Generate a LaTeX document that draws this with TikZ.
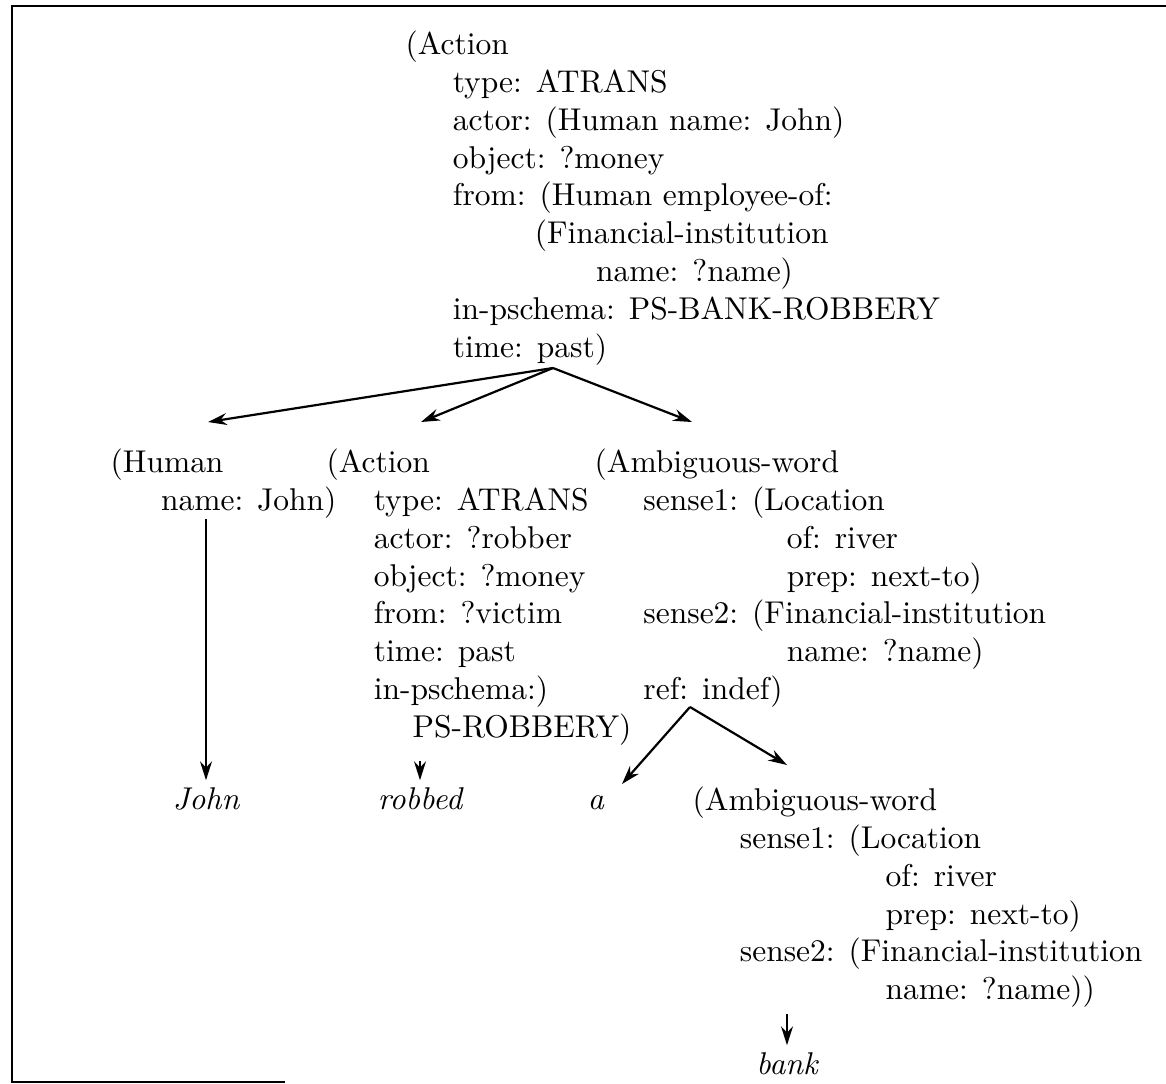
\documentclass[tikz,border=0pt]{standalone}
\usepackage{tikz}
\usetikzlibrary{arrows.meta}
\tikzset{
  block/.style={align=left,inner sep=0pt,anchor=north west},
  leaf/.style={inner sep=2pt,anchor=base,font=\itshape},
  arr/.style={-{Stealth[length=6pt,width=3.8pt,inset=2pt]},line width=0.7pt},
  framebox/.style={line width=0.8pt}
}
\begin{document}
\begin{tikzpicture}[x=0.3175pt,y=-0.3175pt]
    \useasboundingbox (0,0) rectangle (1166,1084);
    \draw[framebox] (1166,6) -- (12,6) -- (12,1082) -- (285,1082);
    % top frame
    \node[block] (top) at (405,30.4)
      {(Action\\
       \hspace*{15pt}type: ATRANS\\
       \hspace*{15pt}actor: (Human name: John)\\
       \hspace*{15pt}object: ?money\\
       \hspace*{15pt}from: (Human employee-of:\\
       \hspace*{41pt}(Financial-institution\\
       \hspace*{60.5pt}name: ?name)\\
       \hspace*{15pt}in-pschema: PS-BANK-ROBBERY\\
       \hspace*{15pt}time: past)};
    % second row
    \node[block] (human) at (110,448.4)
      {(Human\\
       \hspace*{16pt}name: John)};
    \node[block] (action) at (326,448.4)
      {(Action\\
       \hspace*{15pt}type: ATRANS\\
       \hspace*{15pt}actor: ?robber\\
       \hspace*{15pt}object: ?money\\
       \hspace*{15pt}from: ?victim\\
       \hspace*{15pt}time: past\\
       \hspace*{15pt}in-pschema:)\\
       \hspace*{27.3pt}PS-ROBBERY)};
    \node[block] (ambig) at (594,448.4)
      {(Ambiguous-word\\
       \hspace*{15.5pt}sense1: (Location\\
       \hspace*{61pt}of: river\\
       \hspace*{61pt}prep: next-to)\\
       \hspace*{15.5pt}sense2: (Financial-institution\\
       \hspace*{61pt}name: ?name)\\
       \hspace*{15.5pt}ref: indef)};
    % words
    \node[leaf] (john) at (206,809) {John};
    \node[leaf] (robbed) at (420,809) {robbed};
    \node[leaf] (article) at (596,809) {a};
    \node[block] (ambigtwo) at (692,786.4)
      {(Ambiguous-word\\
       \hspace*{15pt}sense1: (Location\\
       \hspace*{61.3pt}of: river\\
       \hspace*{61.3pt}prep: next-to)\\
       \hspace*{15pt}sense2: (Financial-institution\\
       \hspace*{61.3pt}name: ?name))};
    \node[leaf] (bank) at (787,1074) {bank};
    % arrows
    \coordinate (topfork) at (553,368);
    \coordinate (humantip) at (208,422);
    \coordinate (actiontip) at (421,422);
    \coordinate (ambigtip) at (692,422);
    \coordinate (reffork) at (690,707);
    \coordinate (articletip) at (622,784);
    \coordinate (ambigtwotip) at (787,765);
    \draw[arr] (topfork) -- (humantip);
    \draw[arr] (topfork) -- (actiontip);
    \draw[arr] (topfork) -- (ambigtip);
    \draw[arr] (human.south -| john.north) -- (john.north);
    \draw[arr,shorten <=4.8pt] (action.south -| robbed.north) -- (robbed.north);
    \draw[arr] (reffork) -- (articletip);
    \draw[arr] (reffork) -- (ambigtwotip);
    \draw[arr,shorten <=2pt] (ambigtwo.south -| bank.north) -- (bank.north);
\end{tikzpicture}
\end{document}
